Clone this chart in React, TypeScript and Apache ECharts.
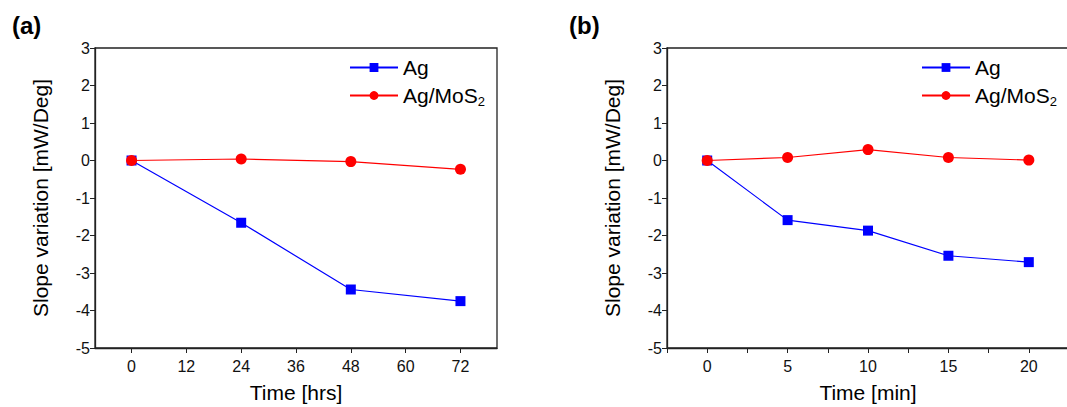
import React, { useEffect, useRef } from "react";
import * as echarts from "echarts";

const hoursX = [0, 24, 48, 72];
const agHours = [0, -1.66, -3.44, -3.75];
const agMosHours = [0, 0.04, -0.03, -0.235];

const minX = [0, 5, 10, 15, 20];
const agMin = [0, -1.59, -1.87, -2.54, -2.71];
const agMosMin = [0, 0.08, 0.29, 0.08, 0.01];

const hourTicks = [0, 12, 24, 36, 48, 60, 72];
const minLabelTicks = [0, 5, 10, 15, 20];
const minAllTicks = [-2.5, 0, 2.5, 5, 7.5, 10, 12.5, 15, 17.5, 20, 22.5];

const FONT = "Arial, 'Liberation Sans', sans-serif";
const BLUE = "#0000ff";
const RED = "#ff0000";

export default function App() {
  const ref = useRef<HTMLDivElement>(null);
  useEffect(() => {
    if (!ref.current) return;
    const chart = echarts.init(ref.current, null, { renderer: "svg" });
    const yAxisCommon = (gridIndex: number) => ({
      type: "value",
      gridIndex,
      min: -5,
      max: 3,
      interval: 1,
      name: "Slope variation [mW/Deg]",
      nameLocation: "middle",
      nameGap: 44,
      nameTextStyle: { fontSize: 21, color: "#000", fontFamily: FONT },
      axisLine: { show: true, onZero: false, lineStyle: { color: "#222", width: 1.3 } },
      axisTick: { show: true, inside: false, length: 5, lineStyle: { color: "#222" } },
      axisLabel: { fontSize: 16, color: "#111", fontFamily: FONT, margin: 5 },
      splitLine: { show: false },
    });
    const lineSeries = (name: string, xs: number[], ys: number[], color: string, symbol: string, idx: number) => ({
      type: "line",
      name,
      xAxisIndex: idx,
      yAxisIndex: idx,
      data: xs.map((x, i) => [x, ys[i]]),
      symbol,
      symbolSize: symbol === "rect" ? 10 : 11,
      lineStyle: { color, width: 1.2 },
      itemStyle: { color },
      z: symbol === "circle" ? 3 : 2,
    });
    const legendCommon = {
      orient: "vertical",
      padding: 0,
      itemWidth: 48,
      itemHeight: 11,
      itemGap: 7,
      selectedMode: false,
      textStyle: {
        fontSize: 21,
        color: "#000",
        fontFamily: FONT,
        rich: { sub: { fontSize: 13, fontFamily: FONT, color: "#000", padding: [12, 0, 0, 0] } },
      },
    };
    chart.setOption({
      animation: false,
      backgroundColor: "#fff",
      grid: [
        { left: 95, top: 48, width: 402, height: 300, show: true, borderColor: "#222", borderWidth: 1.3, containLabel: false, outerBoundsMode: "none" },
        { left: 667, top: 48, width: 402, height: 300, show: true, borderColor: "#222", borderWidth: 1.3, containLabel: false, outerBoundsMode: "none" },
      ],
      xAxis: [
        {
          type: "value",
          gridIndex: 0,
          min: -8,
          max: 80,
          name: "Time [hrs]",
          nameLocation: "middle",
          nameGap: 34,
          nameTextStyle: { fontSize: 21, color: "#000", fontFamily: FONT },
          axisLine: { show: true, onZero: false, lineStyle: { color: "#222", width: 1.3 } },
          axisTick: { show: true, inside: false, length: 5, customValues: hourTicks, lineStyle: { color: "#222" } },
          axisLabel: { fontSize: 16, color: "#111", fontFamily: FONT, margin: 10, customValues: hourTicks },
          splitLine: { show: false },
        },
        {
          type: "value",
          gridIndex: 1,
          min: -2.5,
          max: 22.5,
          name: "Time [min]",
          nameLocation: "middle",
          nameGap: 34,
          nameTextStyle: { fontSize: 21, color: "#000", fontFamily: FONT },
          axisLine: { show: true, onZero: false, lineStyle: { color: "#222", width: 1.3 } },
          axisTick: { show: true, inside: false, length: 5, customValues: minAllTicks, lineStyle: { color: "#222" } },
          axisLabel: { fontSize: 16, color: "#111", fontFamily: FONT, margin: 10, customValues: minLabelTicks },
          splitLine: { show: false },
        },
      ],
      yAxis: [yAxisCommon(0), yAxisCommon(1)],
      legend: [
        {
          ...legendCommon,
          left: 349,
          top: 57,
          data: ["Ag", "Ag/MoS2"],
          formatter: (n: string) => (n === "Ag/MoS2" ? "Ag/MoS{sub|2}" : n),
        },
        {
          ...legendCommon,
          left: 921,
          top: 57,
          data: ["Ag ", "Ag/MoS2 "],
          formatter: (n: string) => (n.trim() === "Ag/MoS2" ? "Ag/MoS{sub|2}" : n.trim()),
        },
      ],
      graphic: [
        { type: "text", left: 12, top: 13, style: { text: "(a)", fontSize: 24, fontWeight: "bold", fill: "#000", fontFamily: FONT } },
        { type: "text", left: 569, top: 13, style: { text: "(b)", fontSize: 24, fontWeight: "bold", fill: "#000", fontFamily: FONT } },
      ],
      series: [
        lineSeries("Ag", hoursX, agHours, BLUE, "rect", 0),
        lineSeries("Ag/MoS2", hoursX, agMosHours, RED, "circle", 0),
        lineSeries("Ag ", minX, agMin, BLUE, "rect", 1),
        lineSeries("Ag/MoS2 ", minX, agMosMin, RED, "circle", 1),
      ],
    });
    return () => chart.dispose();
  }, []);
  return <div ref={ref} style={{ position: "absolute", left: 0, top: 0, width: 1067, height: 407 }} />;
}
